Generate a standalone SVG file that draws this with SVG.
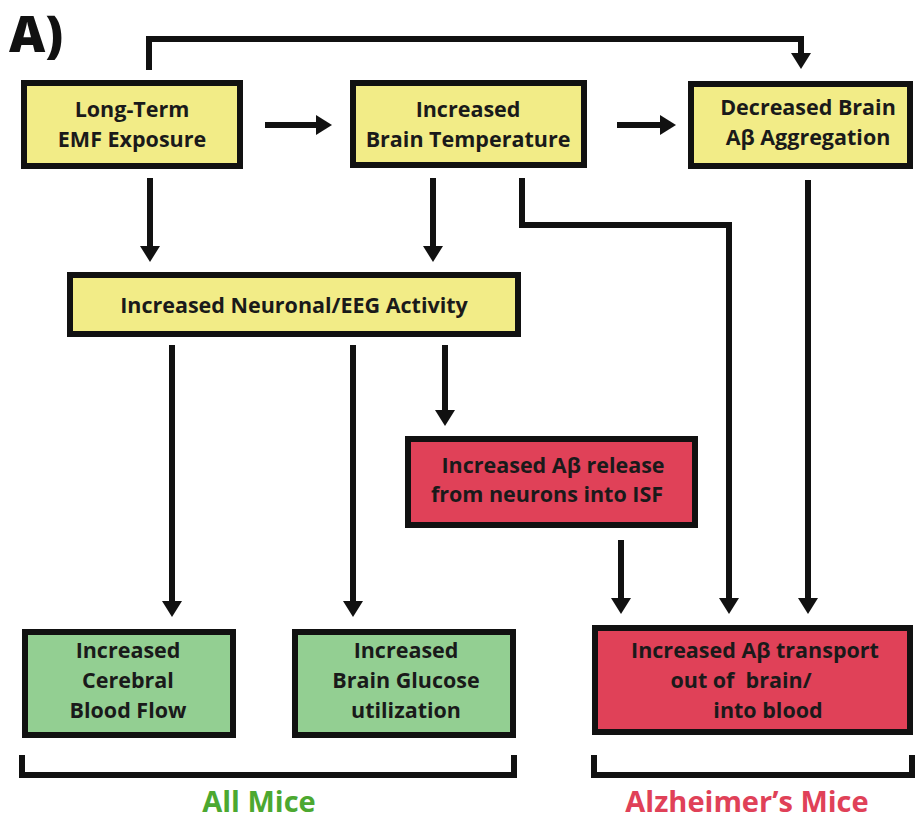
<svg xmlns="http://www.w3.org/2000/svg" width="915" height="819" viewBox="0 0 915 819">
<style>
.box{stroke:#111;stroke-width:6;}
.y{fill:#f2ec87;}
.g{fill:#93cf92;}
.r{fill:#e04158;}
.t{font-family:"Open Sans","Noto Sans","DejaVu Sans",sans-serif;font-weight:bold;font-size:21.5px;fill:#1a1a1a;text-anchor:middle;}
.c{fill:none;stroke:#111;stroke-width:6;}
.lab{font-family:"Open Sans","Noto Sans","DejaVu Sans",sans-serif;font-weight:bold;font-size:29px;text-anchor:middle;}
</style>
<defs>
<marker id="ah" markerUnits="userSpaceOnUse" markerWidth="20" markerHeight="24" viewBox="0 -12 17 24" refX="1" refY="0" orient="auto">
<path d="M0,-10 L16,0 L0,10 z" fill="#111"/>
</marker>
</defs>
<rect width="915" height="819" fill="#fff"/>
<text x="9" y="52" font-family="'Open Sans','Noto Sans',sans-serif" font-weight="800" font-size="50" fill="#111">A)</text>

<g id="connectors">
<path class="c" d="M149,70 V39 H801 V54" marker-end="url(#ah)"/>
<path class="c" d="M265,125 H317" marker-end="url(#ah)"/>
<path class="c" d="M617,125 H661" marker-end="url(#ah)"/>
<path class="c" d="M150,178 V247" marker-end="url(#ah)"/>
<path class="c" d="M433,178 V247" marker-end="url(#ah)"/>
<path class="c" d="M522,178 V225 H729 V599" marker-end="url(#ah)"/>
<path class="c" d="M808,180 V599" marker-end="url(#ah)"/>
<path class="c" d="M172,345 V602" marker-end="url(#ah)"/>
<path class="c" d="M353,345 V602" marker-end="url(#ah)"/>
<path class="c" d="M445,345 V411" marker-end="url(#ah)"/>
<path class="c" d="M621,540 V599" marker-end="url(#ah)"/>
<path class="c" d="M22,755 V775 H514 V755" stroke-width="7"/>
<path class="c" d="M594,755 V775 H912 V755" stroke-width="7"/>
</g>

<g id="n1"><rect class="box y" x="24" y="83" width="216" height="83"/>
<text class="t" x="132" y="117">Long-Term</text><text class="t" x="132" y="147">EMF Exposure</text></g>
<g id="n2"><rect class="box y" x="353" y="83" width="231" height="82"/>
<text class="t" x="468" y="117">Increased</text><text class="t" x="468" y="147">Brain Temperature</text></g>
<g id="n3"><rect class="box y" x="691" y="84" width="219" height="82"/>
<text class="t" x="808" y="115">Decreased Brain</text><text class="t" x="808" y="145">Aβ Aggregation</text></g>
<g id="n4"><rect class="box y" x="70" y="275" width="448" height="59"/>
<text class="t" x="294" y="313">Increased Neuronal/EEG Activity</text></g>
<g id="n5"><rect class="box r" x="408" y="439" width="287" height="86"/>
<text class="t" x="553" y="473">Increased Aβ release</text><text class="t" x="547" y="502">from neurons into ISF</text></g>
<g id="n6"><rect class="box g" x="25" y="632" width="208" height="103"/>
<text class="t" x="128" y="658">Increased</text><text class="t" x="128" y="688">Cerebral</text><text class="t" x="128" y="718">Blood Flow</text></g>
<g id="n7"><rect class="box g" x="295" y="632" width="218" height="103"/>
<text class="t" x="406" y="658">Increased</text><text class="t" x="406" y="688">Brain Glucose</text><text class="t" x="406" y="718">utilization</text></g>
<g id="n8"><rect class="box r" x="595" y="628" width="315" height="104"/>
<text class="t" x="755" y="658">Increased Aβ transport</text><text class="t" x="741" y="688">out of&#160; brain/</text><text class="t" x="768" y="718">into blood</text></g>

<text class="lab" x="259" y="812" fill="#4ca830">All Mice</text>
<text class="lab" x="747" y="812" fill="#e04158">Alzheimer’s Mice</text>
</svg>
